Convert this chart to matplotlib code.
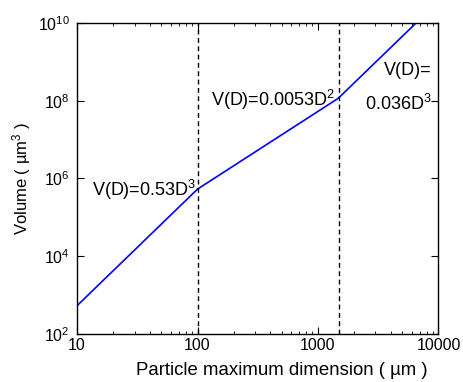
import numpy as np
import matplotlib.pyplot as plt
from matplotlib.ticker import FixedLocator, LogLocator, NullLocator, FixedFormatter

plt.rcParams['font.family'] = ['Liberation Sans', 'DejaVu Sans']
plt.rcParams['mathtext.fontset'] = 'custom'
plt.rcParams['mathtext.rm'] = 'Liberation Sans'
plt.rcParams['mathtext.it'] = 'Liberation Sans'

# piecewise power law V = a * D^b, break points in um
breaks = [10.0, 100.0, 1500.0, 6530.0]
exponents = [3, 2, 3]
coef_small = 0.53
coef_large = 0.036
labels = ['V(D)=0.53D$^3$', 'V(D)=0.0053D$^2$', 'V(D)=', '0.036D$^3$']

x_ticks = [10, 100, 1000, 10000]
x_ticklabels = ['10', '100', '1000', '10000']
y_ticks = [1e2, 1e4, 1e6, 1e8, 1e10]
y_ticklabels = ['10$^2$', '10$^4$', '10$^6$', '10$^8$', '10$^{10}$']

# middle coefficient keeps the curve continuous at the first break
coef_mid = coef_small * breaks[1] ** (exponents[0] - exponents[1])
coefs = [coef_small, coef_mid, coef_large]

fig = plt.figure(figsize=(4.64, 3.82), dpi=100)
ax = fig.add_axes([0.166, 0.126, 0.779, 0.814])

for i in range(3):
    d = np.logspace(np.log10(breaks[i]), np.log10(breaks[i + 1]), 50)
    ax.plot(d, coefs[i] * d ** exponents[i], color='#0000ff', lw=1.2)

for xb in breaks[1:3]:
    ax.axvline(xb, color='black', ls=(0, (3.5, 2.5)), lw=1)

ax.set_xscale('log')
ax.set_yscale('log')
ax.set_xlim(10, 10000)
ax.set_ylim(1e2, 1e10)

ax.xaxis.set_major_locator(FixedLocator(x_ticks))
ax.xaxis.set_major_formatter(FixedFormatter(x_ticklabels))
ax.xaxis.set_minor_locator(LogLocator(base=10, subs=np.arange(2, 10)))
ax.yaxis.set_major_locator(FixedLocator(y_ticks))
ax.yaxis.set_major_formatter(FixedFormatter(y_ticklabels))
ax.yaxis.set_minor_locator(NullLocator())

ax.tick_params(which='both', direction='in', top=True, right=True, labelsize=11.5)
ax.tick_params(which='major', length=5, width=0.8)
ax.tick_params(which='minor', length=2.5, width=0.6)
ax.tick_params(axis='x', pad=3)
ax.tick_params(axis='y', pad=5)
for s in ax.spines.values():
    s.set_linewidth(1)

fs = 13
ax.text(97, 3.5e5, labels[0], ha='right', va='baseline', fontsize=fs)
ax.text(1390, 7.2e7, labels[1], ha='right', va='baseline', fontsize=fs)
ax.text(8830, 4.5e8, labels[2], ha='right', va='baseline', fontsize=fs)
ax.text(8830, 5.7e7, labels[3], ha='right', va='baseline', fontsize=fs)

ax.set_xlabel('Particle maximum dimension ( µm )', fontsize=13.4, labelpad=4)
ax.xaxis.set_label_coords(0.567, -0.09)
ax.set_ylabel('Volume ( µm$^3$ )', fontsize=12, labelpad=4)

fig.savefig('out.png', dpi=100)
